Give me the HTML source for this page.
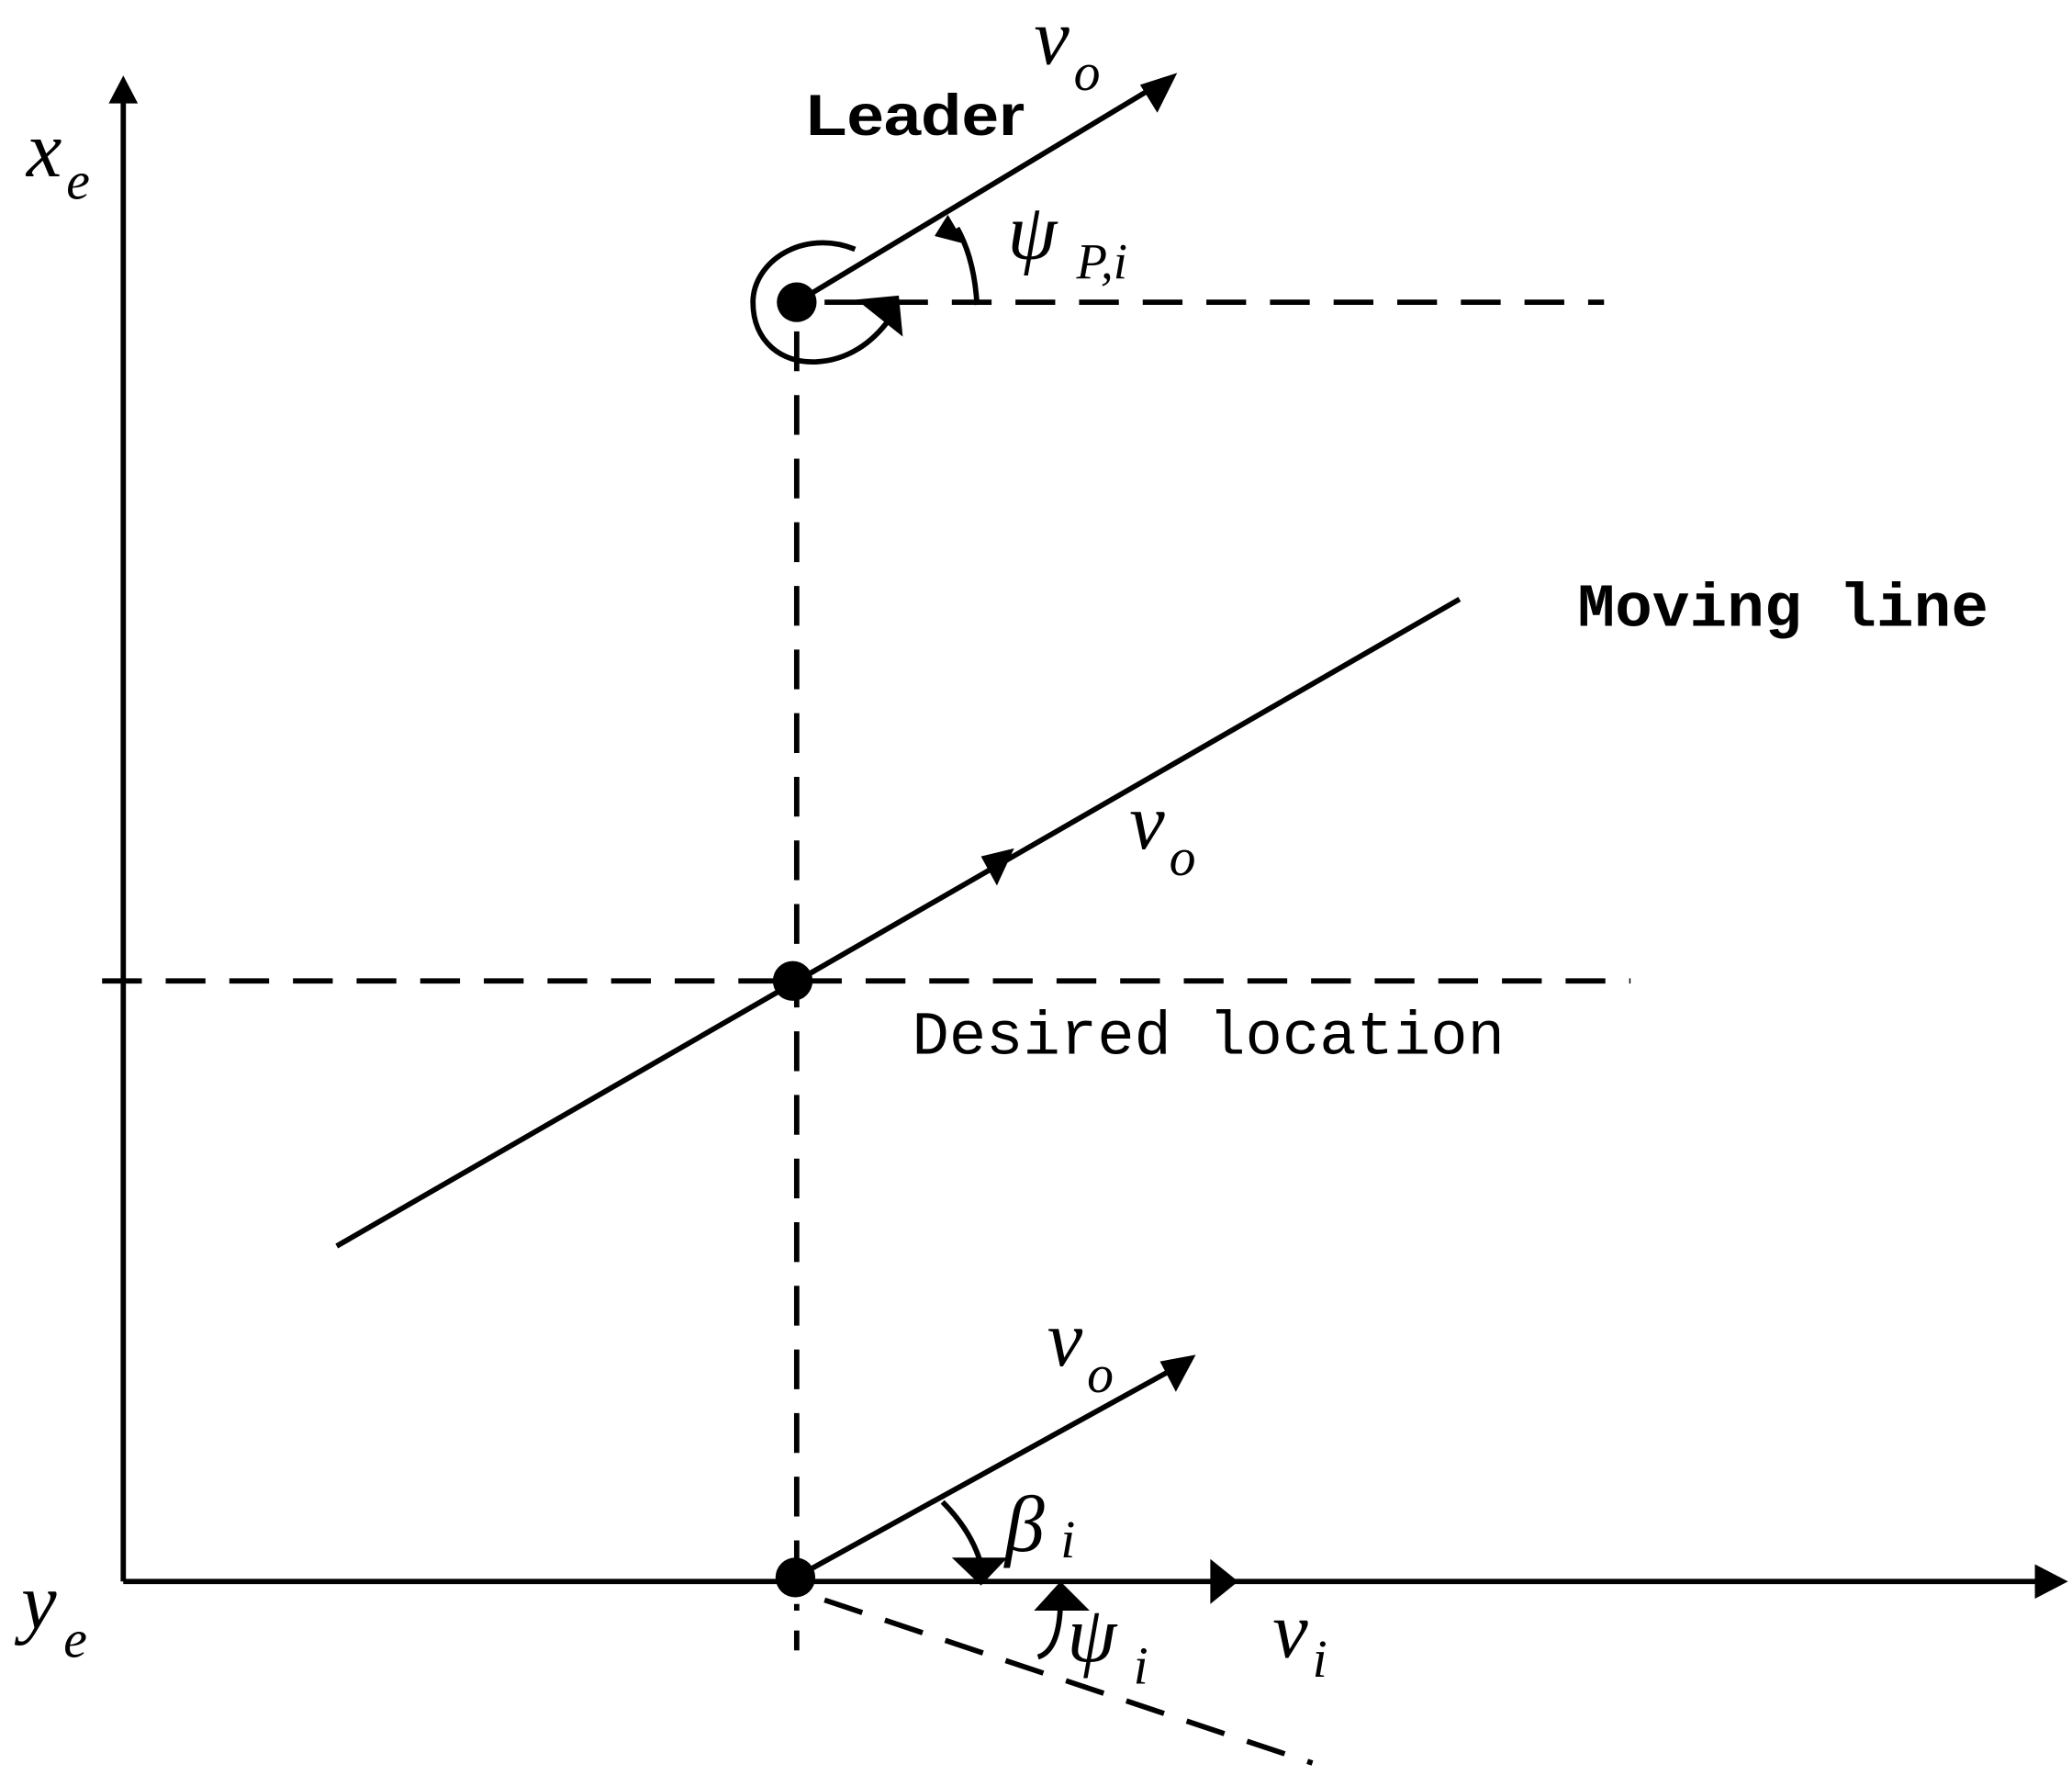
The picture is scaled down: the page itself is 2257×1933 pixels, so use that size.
<!DOCTYPE html>
<html><head><meta charset="utf-8"><style>html,body{margin:0;padding:0;background:#fff}svg{display:block}</style></head>
<body>
<svg width="2257" height="1933" viewBox="0 0 1563 1339" preserveAspectRatio="none" xmlns="http://www.w3.org/2000/svg">
<g stroke="#000" stroke-width="4" fill="none">
<line x1="93" y1="1193" x2="93" y2="75"/>
<line x1="93" y1="1193" x2="1540" y2="1193"/>
<line x1="601" y1="228" x2="875" y2="63"/>
<line x1="254" y1="940" x2="1101" y2="452"/>
<line x1="600" y1="1190" x2="890" y2="1030"/>
<path d="M645 188 C 605 172, 568 198, 568 228 C 568 258, 590 274, 615 273 C 640 272, 658 258, 670 242" />
<path d="M737 230 Q735 195 722 172"/>
<path d="M711 1133 Q733 1155 740 1180"/>
<path d="M783 1250 Q800 1245 800 1205"/>
</g>
<g stroke="#000" stroke-width="4" fill="none" stroke-dasharray="30,18">
<line x1="622" y1="228" x2="1210" y2="228"/>
<line x1="601" y1="250" x2="601" y2="1215"/>
<line x1="77" y1="740" x2="1230" y2="740"/>
<line x1="622" y1="1207" x2="990" y2="1330"/>
</g>
<line x1="601" y1="1230" x2="601" y2="1245" stroke="#000" stroke-width="4"/>
<g fill="#000">
<circle cx="601" cy="228" r="15"/>
<circle cx="598" cy="740" r="15"/>
<circle cx="600" cy="1190" r="15"/>
<polygon points="93,57 82,78 104,78"/>
<polygon points="1560,1193 1535,1180 1535,1206"/>
<polygon points="934,1193 913,1176 913,1210"/>
<polygon points="888,55 860,64 873,85"/>
<polygon points="646,226 678,223 681,254"/>
<polygon points="715,162 705,178 728,184"/>
<polygon points="765,640 740,646 752,668"/>
<polygon points="902,1022 875,1027 887,1050"/>
<polygon points="740,1196 718,1175 760,1175"/>
<polygon points="800,1193 780,1215 822,1215"/>
</g>
<g font-family="Liberation Serif, serif" font-style="italic" font-size="60">
<text x="20" y="133">x</text><text x="50" y="150" font-size="40">e</text>
<text x="16" y="1228">y</text><text x="48" y="1250" font-size="40">e</text>
<text x="780" y="48">v</text><text x="810" y="68" font-size="40">o</text>
<text x="760" y="195">ψ</text><text x="812" y="210" font-size="38">P,i</text>
<text x="852" y="640">v</text><text x="882" y="660" font-size="40">o</text>
<text x="790" y="1030">v</text><text x="820" y="1050" font-size="40">o</text>
<text x="758" y="1170">β</text><text x="800" y="1175" font-size="40">i</text>
<text x="805" y="1253">ψ</text><text x="855" y="1270" font-size="40">i</text>
<text x="960" y="1250">v</text><text x="990" y="1265" font-size="40">i</text>
</g>
<g font-family="Liberation Sans, sans-serif" font-weight="bold" font-size="44">
<text x="608" y="102" textLength="165" lengthAdjust="spacingAndGlyphs">Leader</text>
</g>
<g font-family="Liberation Mono, monospace" font-size="46">
<text x="1190" y="472" font-weight="bold" textLength="310" lengthAdjust="spacingAndGlyphs">Moving line</text>
<text x="688" y="795" textLength="447" lengthAdjust="spacingAndGlyphs">Desired location</text>
</g>
</svg>
</body></html>
